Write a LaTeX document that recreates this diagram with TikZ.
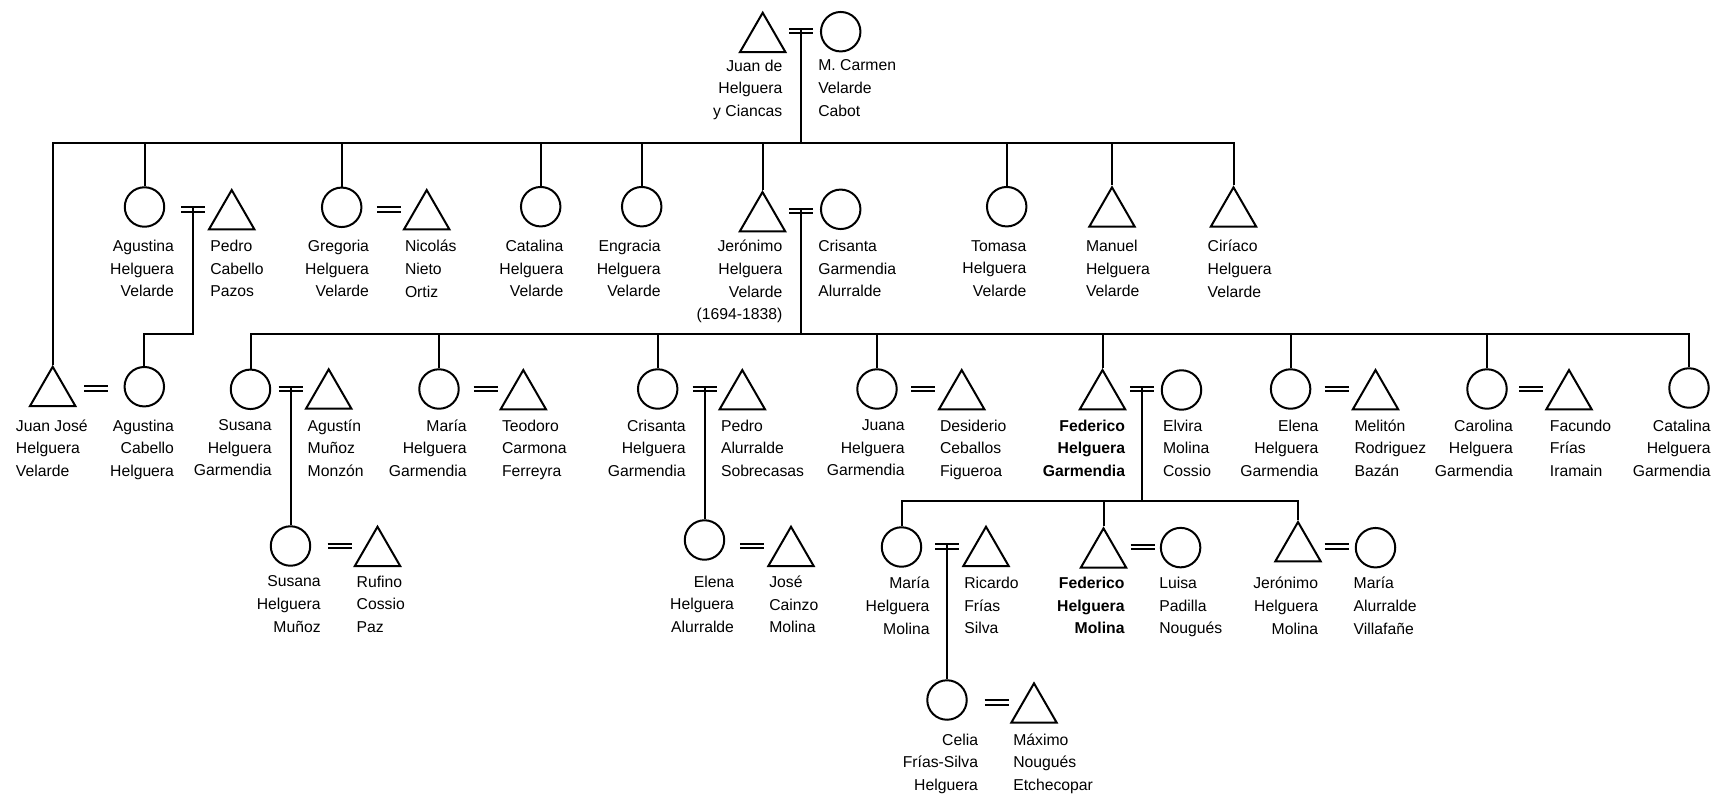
\documentclass[tikz,border=0pt]{standalone}
\usepackage{fontspec}
\setmainfont{Liberation Sans}
\usepackage{tikz}
\usetikzlibrary{shapes.geometric}

\tikzset{
	male/.style={regular polygon, regular polygon sides=3, draw, minimum size=39.4pt, inner sep=0pt},
	female/.style={circle, draw, minimum size=29.6pt, inner sep=0pt},
	wed/.style={double, double distance=1.6pt},
	who/.style={font=\fontsize{11.8}{16.9}\selectfont, inner sep=0pt},
	ego/.style={font=\fontsize{11.8}{16.9}\selectfont\bfseries},
	lname/.style={who, align=right, anchor=north east},
	rname/.style={who, align=left, anchor=north west},
}

\begin{document}
\begin{tikzpicture}[x=0.75pt, y=-0.75pt, line width=1.5pt]
	\useasboundingbox (0,0) rectangle (1713,793);
	\coordinate (l1) at (0,142.7);
	\coordinate (l2) at (0,333.7);
	\coordinate (l3) at (0,501.3);

	\node[male] (jd) at (762.7,39) {};
	\node[female] (mc) at (840.7,31.7) {};
	\coordinate (w0) at (801.3,31.3);
	\node[lname] (jd-t) at (783.3,59) {Juan de\\Helguera\\y Ciancas};
	\node[rname] (mc-t) at (817.3,59) {M. Carmen\\Velarde\\Cabot};

	\node[female] (ahv) at (144.5,207) {};
	\node[male] (pc) at (231.7,216.3) {};
	\coordinate (w1) at (193.3,209.5);
	\node[lname] (ahv-t) at (175,239.4) {Agustina\\Helguera\\Velarde};
	\node[rname] (pc-t) at (209.3,239.4) {Pedro\\Cabello\\Pazos};
	\node[female] (ghv) at (341.7,207.3) {};
	\node[male] (nn) at (426.7,216.3) {};
	\coordinate (w2) at (388.8,209.5);
	\node[lname] (ghv-t) at (370,239.4) {Gregoria\\Helguera\\Velarde};
	\node[rname] (nn-t) at (404,239.4) {Nicolás\\Nieto\\Ortiz};
	\node[female] (cahv) at (540.7,206.7) {};
	\node[lname] (cahv-t) at (564.3,239.4) {Catalina\\Helguera\\Velarde};
	\node[female] (ehv) at (641.7,206.7) {};
	\node[lname] (ehv-t) at (661.7,239.4) {Engracia\\Helguera\\Velarde};
	\node[male] (jhv) at (762.5,218.3) {};
	\node[female] (cga) at (840.7,209.3) {};
	\coordinate (w3) at (801.3,210.7);
	\node[lname] (jhv-t) at (783.3,239.4) {Jerónimo\\Helguera\\Velarde\\(1694-1838)};
	\node[rname] (cga-t) at (817.3,239.4) {Crisanta\\Garmendia\\Alurralde};
	\node[female] (thv) at (1006.7,206.7) {};
	\node[lname] (thv-t) at (1027.3,239.4) {Tomasa\\Helguera\\Velarde};
	\node[male] (mhv) at (1112,213.6) {};
	\node[rname] (mhv-t) at (1085,239.4) {Manuel\\Helguera\\Velarde};
	\node[male] (chv) at (1233.5,213.6) {};
	\node[rname] (chv-t) at (1206.7,239.4) {Ciríaco\\Helguera\\Velarde};

	\node[male] (jj) at (52.7,393) {};
	\node[female] (ach) at (144.3,386.7) {};
	\coordinate (w4) at (96.3,388.5);
	\node[rname] (jj-t) at (15,418.7) {Juan José\\Helguera\\Velarde};
	\node[lname] (ach-t) at (175,418.7) {Agustina\\Cabello\\Helguera};
	\node[female] (shg) at (250.5,389.3) {};
	\node[male] (am) at (328.7,395.6) {};
	\coordinate (w5) at (290.5,389.3);
	\node[lname] (shg-t) at (272.7,418.7) {Susana\\Helguera\\Garmendia};
	\node[rname] (am-t) at (306.7,418.7) {Agustín\\Muñoz\\Monzón};
	\node[female] (mhg) at (439,389) {};
	\node[male] (tc) at (523.3,396.3) {};
	\coordinate (w6) at (485.5,389);
	\node[lname] (mhg-t) at (467.7,418.7) {María\\Helguera\\Garmendia};
	\node[rname] (tc-t) at (501,418.7) {Teodoro\\Carmona\\Ferreyra};
	\node[female] (crhg) at (657.7,389) {};
	\node[male] (pa) at (742.3,396.3) {};
	\coordinate (w7) at (704.5,389);
	\node[lname] (crhg-t) at (686.7,418.7) {Crisanta\\Helguera\\Garmendia};
	\node[rname] (pa-t) at (720,418.7) {Pedro\\Alurralde\\Sobrecasas};
	\node[female] (jhg) at (877,389) {};
	\node[male] (dc) at (961.7,396.3) {};
	\coordinate (w8) at (923.3,389);
	\node[lname] (jhg-t) at (905.7,418.7) {Juana\\Helguera\\Garmendia};
	\node[rname] (dc-t) at (939,418.7) {Desiderio\\Ceballos\\Figueroa};
	\node[male] (fhg) at (1102.5,396.3) {};
	\node[female] (emc) at (1181.5,390) {};
	\coordinate (w9) at (1142,389);
	\node[lname, ego] (fhg-t) at (1126,418.7) {Federico\\Helguera\\Garmendia};
	\node[rname] (emc-t) at (1162,418.7) {Elvira\\Molina\\Cossio};
	\node[female] (ehg) at (1290.6,389) {};
	\node[male] (mr) at (1375.5,396.3) {};
	\coordinate (w10) at (1336.5,389);
	\node[lname] (ehg-t) at (1319.3,418.7) {Elena\\Helguera\\Garmendia};
	\node[rname] (mr-t) at (1353.6,418.7) {Melitón\\Rodriguez\\Bazán};
	\node[female] (cahg) at (1487,389) {};
	\node[male] (ff) at (1569,396.3) {};
	\coordinate (w11) at (1531,389);
	\node[lname] (cahg-t) at (1513.8,418.7) {Carolina\\Helguera\\Garmendia};
	\node[rname] (ff-t) at (1548.9,418.7) {Facundo\\Frías\\Iramain};
	\node[female] (cthg) at (1689,388) {};
	\node[lname] (cthg-t) at (1711.7,418.7) {Catalina\\Helguera\\Garmendia};

	\node[female] (shm) at (290.5,546) {};
	\node[male] (rc) at (377.5,553) {};
	\coordinate (w12) at (339.5,545.7);
	\node[lname] (shm-t) at (321.7,575) {Susana\\Helguera\\Muñoz};
	\node[rname] (rc-t) at (355.7,575) {Rufino\\Cossio\\Paz};
	\node[female] (eha) at (704.5,540) {};
	\node[male] (jc) at (791,553) {};
	\coordinate (w13) at (752.3,545.7);
	\node[lname] (eha-t) at (735,575) {Elena\\Helguera\\Alurralde};
	\node[rname] (jc-t) at (768.3,575) {José\\Cainzo\\Molina};
	\node[female] (mhm) at (901.5,547) {};
	\node[male] (rf) at (986,553) {};
	\coordinate (w14) at (947,546.5);
	\node[lname] (mhm-t) at (930.5,576.4) {María\\Helguera\\Molina};
	\node[rname] (rf-t) at (963.3,576.4) {Ricardo\\Frías\\Silva};
	\node[male] (fhm) at (1103.5,554.6) {};
	\node[female] (lpn) at (1180.6,547.6) {};
	\coordinate (w15) at (1142.5,547);
	\node[lname, ego] (fhm-t) at (1125.5,576.4) {Federico\\Helguera\\Molina};
	\node[rname] (lpn-t) at (1158.3,576.4) {Luisa\\Padilla\\Nougués};
	\node[male] (jhm) at (1298,548.3) {};
	\node[female] (mav) at (1375.5,547.7) {};
	\coordinate (w16) at (1336.5,546.5);
	\node[lname] (jhm-t) at (1319,576.4) {Jerónimo\\Helguera\\Molina};
	\node[rname] (mav-t) at (1352.7,576.4) {María\\Alurralde\\Villafañe};

	\node[female] (cfs) at (947,700) {};
	\node[male] (mn) at (1034,709.6) {};
	\coordinate (w17) at (996.5,702.5);
	\node[lname] (cfs-t) at (979,732.7) {Celia\\Frías-Silva\\Helguera};
	\node[rname] (mn-t) at (1012.3,732.7) {Máximo\\Nougués\\Etchecopar};

	\draw[wed] (w0) ++(-12,0) -- ++(24,0);
	\draw[wed] (w1) ++(-12,0) -- ++(24,0);
	\draw[wed] (w2) ++(-12,0) -- ++(24,0);
	\draw[wed] (w3) ++(-12,0) -- ++(24,0);
	\draw[wed] (w4) ++(-12,0) -- ++(24,0);
	\draw[wed] (w5) ++(-12,0) -- ++(24,0);
	\draw[wed] (w6) ++(-12,0) -- ++(24,0);
	\draw[wed] (w7) ++(-12,0) -- ++(24,0);
	\draw[wed] (w8) ++(-12,0) -- ++(24,0);
	\draw[wed] (w9) ++(-12,0) -- ++(24,0);
	\draw[wed] (w10) ++(-12,0) -- ++(24,0);
	\draw[wed] (w11) ++(-12,0) -- ++(24,0);
	\draw[wed] (w12) ++(-12,0) -- ++(24,0);
	\draw[wed] (w13) ++(-12,0) -- ++(24,0);
	\draw[wed] (w14) ++(-12,0) -- ++(24,0);
	\draw[wed] (w15) ++(-12,0) -- ++(24,0);
	\draw[wed] (w16) ++(-12,0) -- ++(24,0);
	\draw[wed] (w17) ++(-12,0) -- ++(24,0);

	\draw ([yshift=1.5pt]w0) -- (w0 |- l1);
	\draw (jj.north) -- (jj.north |- l1) -- (chv.north |- l1) -- (chv.north);
	\draw (ahv.north) -- (ahv.north |- l1);
	\draw (ghv.north) -- (ghv.north |- l1);
	\draw (cahv.north) -- (cahv.north |- l1);
	\draw (ehv.north) -- (ehv.north |- l1);
	\draw (jhv.north) -- (jhv.north |- l1);
	\draw (thv.north) -- (thv.north |- l1);
	\draw (mhv.north) -- (mhv.north |- l1);

	\draw ([yshift=1.5pt]w1) -- (w1 |- l2) -| (ach.north);

	\draw ([yshift=1.5pt]w3) -- (w3 |- l2);
	\draw (shg.north) -- (shg.north |- l2) -- (cthg.north |- l2) -- (cthg.north);
	\draw (mhg.north) -- (mhg.north |- l2);
	\draw (crhg.north) -- (crhg.north |- l2);
	\draw (jhg.north) -- (jhg.north |- l2);
	\draw (fhg.north) -- (fhg.north |- l2);
	\draw (ehg.north) -- (ehg.north |- l2);
	\draw (cahg.north) -- (cahg.north |- l2);

	\draw ([yshift=1.5pt]w5) -- (shm.north);
	\draw ([yshift=1.5pt]w7) -- (eha.north);

	\draw ([yshift=1.5pt]w9) -- (w9 |- l3);
	\draw (mhm.north) -- (mhm.north |- l3) -- (jhm.north |- l3) -- (jhm.north);
	\draw (fhm.north) -- (fhm.north |- l3);

	\draw ([yshift=1.5pt]w14) -- (cfs.north);
\end{tikzpicture}
\end{document}
